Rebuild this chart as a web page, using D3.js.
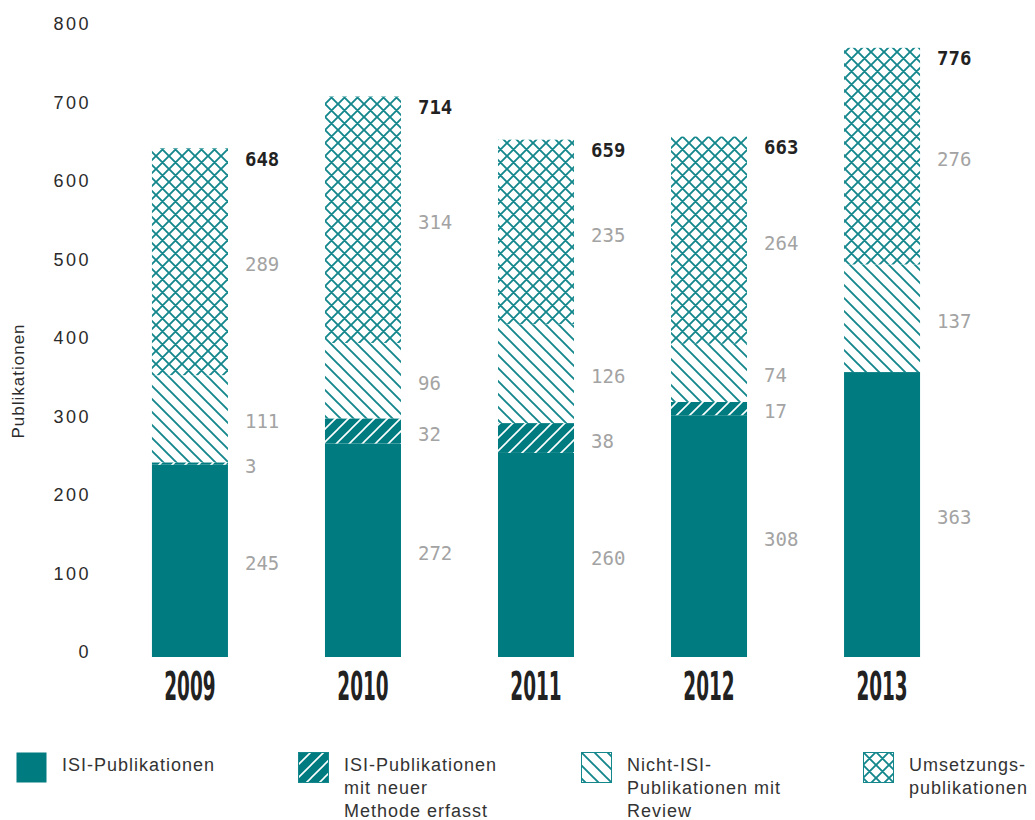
<!DOCTYPE html>
<html>
<head>
<meta charset="utf-8">
<script src="https://cdn.jsdelivr.net/npm/d3@7/dist/d3.min.js"></script>
<style>
  body { margin: 0; background: #fff; }
  svg { display: block; }
  .tick-y text { font-family: "Liberation Sans", Arial, sans-serif; font-size: 18px; letter-spacing: 2.5px; fill: #2b2b2b; }
  .year text { font-family: "DejaVu Sans Condensed", sans-serif; font-weight: bold; font-size: 20.5px; fill: #222; }
  .val { font-family: "DejaVu Sans Mono", monospace; font-size: 19px; fill: #a3a3a3; }
  .total { font-family: "DejaVu Sans Mono", monospace; font-size: 19px; font-weight: bold; fill: #222; }
  .legend text { font-family: "Liberation Sans", Arial, sans-serif; font-size: 18px; letter-spacing: 1px; fill: #333; }
  .ytitle { font-family: "Liberation Sans", Arial, sans-serif; font-size: 17px; letter-spacing: 1px; fill: #2b2b2b; }
</style>
</head>
<body>
<div id="chart"></div>
<script>
// data
const years = ['2009', '2010', '2011', '2012', '2013'];
const isiPub = [245, 272, 260, 308, 363];
const isiNeueMethode = [3, 32, 38, 17, 0];
const nichtIsi = [111, 96, 126, 74, 137];
const umsetzung = [289, 314, 235, 264, 276];
const totals = [648, 714, 659, 663, 776];
const yTicks = [0, 100, 200, 300, 400, 500, 600, 700, 800];

const seriesKeys = ['isi', 'neu', 'nicht', 'ums'];
const seriesLabels = [
  ['ISI-Publikationen'],
  ['ISI-Publikationen', 'mit neuer', 'Methode erfasst'],
  ['Nicht-ISI-', 'Publikationen mit', 'Review'],
  ['Umsetzungs-', 'publikationen']
];

const width = 1035, height = 820;
const teal = '#007b80';
const hatch = '#14878d';

const rows = years.map(function(y, i) {
  return { year: y, isi: isiPub[i], neu: isiNeueMethode[i], nicht: nichtIsi[i], ums: umsetzung[i], total: totals[i] };
});

const svg = d3.select('#chart').append('svg')
  .attr('width', width)
  .attr('height', height);

// patterns
const defs = svg.append('defs');
const p = 13;

const pNeu = defs.append('pattern').attr('id', 'pat-neu')
  .attr('patternUnits', 'userSpaceOnUse').attr('width', p).attr('height', p);
pNeu.append('rect').attr('width', p).attr('height', p).attr('fill', teal);
pNeu.append('path')
  .attr('d', 'M0,' + p + ' L' + p + ',0 M-3,3 L3,-3 M' + (p - 3) + ',' + (p + 3) + ' L' + (p + 3) + ',' + (p - 3))
  .attr('stroke', '#fff').attr('stroke-width', 1.6);

const pNicht = defs.append('pattern').attr('id', 'pat-nicht')
  .attr('patternUnits', 'userSpaceOnUse').attr('width', p).attr('height', p);
pNicht.append('rect').attr('width', p).attr('height', p).attr('fill', '#fff');
pNicht.append('path')
  .attr('d', 'M0,0 L' + p + ',' + p + ' M-3,' + (p - 3) + ' L3,' + (p + 3) + ' M' + (p - 3) + ',-3 L' + (p + 3) + ',3')
  .attr('stroke', hatch).attr('stroke-width', 1.9);

const pUms = defs.append('pattern').attr('id', 'pat-ums')
  .attr('patternUnits', 'userSpaceOnUse').attr('width', p).attr('height', p);
pUms.append('rect').attr('width', p).attr('height', p).attr('fill', '#fff');
pUms.append('path')
  .attr('d', 'M0,0 L' + p + ',' + p + ' M-3,' + (p - 3) + ' L3,' + (p + 3) + ' M' + (p - 3) + ',-3 L' + (p + 3) + ',3' +
             ' M0,' + p + ' L' + p + ',0 M-3,3 L3,-3 M' + (p - 3) + ',' + (p + 3) + ' L' + (p + 3) + ',' + (p - 3))
  .attr('stroke', hatch).attr('stroke-width', 1.9);

const fills = { isi: teal, neu: 'url(#pat-neu)', nicht: 'url(#pat-nicht)', ums: 'url(#pat-ums)' };

// scales
const x = d3.scaleBand()
  .domain(years)
  .range([103.5, 968.5])
  .paddingInner(0.5607)
  .paddingOuter(0.28);

const y = d3.scaleLinear()
  .domain([0, 800])
  .range([657, 29]);

// y axis
const yAxis = svg.append('g')
  .attr('class', 'tick-y')
  .attr('transform', 'translate(91,0)')
  .call(d3.axisLeft(y).tickValues(yTicks).tickSize(0).tickPadding(0).tickFormat(d3.format('d')));
yAxis.select('.domain').remove();
yAxis.selectAll('text').attr('dy', '0.32em').attr('y', -5);

svg.append('text')
  .attr('class', 'ytitle')
  .attr('transform', 'translate(24,381) rotate(-90)')
  .attr('text-anchor', 'middle')
  .text('Publikationen');

// x axis with years (condensed, stretched vertically)
const xAxis = svg.append('g')
  .attr('class', 'year')
  .attr('transform', 'translate(0,672)')
  .call(d3.axisBottom(x).tickSize(0).tickPadding(0));
xAxis.select('.domain').remove();
xAxis.selectAll('text')
  .attr('y', 0)
  .attr('dy', 0)
  .attr('transform', 'translate(0,28) scale(1,1.9)');

// stacked bars
const stack = d3.stack().keys(seriesKeys);
const layers = stack(rows);

const layer = svg.append('g').selectAll('g')
  .data(layers)
  .join('g')
  .attr('fill', function(d) { return fills[d.key]; });

layer.selectAll('rect')
  .data(function(d) { return d; })
  .join('rect')
  .attr('x', function(d) { return x(d.data.year); })
  .attr('y', function(d) { return y(d[1]); })
  .attr('width', x.bandwidth())
  .attr('height', function(d) { return y(d[0]) - y(d[1]); });

// segment value labels
const labelX = function(d) { return x(d.data.year) + x.bandwidth() + 17; };
svg.append('g').selectAll('g')
  .data(layers)
  .join('g')
  .selectAll('text')
  .data(function(d) { return d.filter(function(s) { return s[1] - s[0] > 0; }); })
  .join('text')
  .attr('class', 'val')
  .attr('x', labelX)
  .attr('y', function(d) { return (y(d[0]) + y(d[1])) / 2 + 3; })
  .attr('dy', '0.35em')
  .text(function(d) { return d[1] - d[0]; });

// totals
svg.append('g').selectAll('text')
  .data(rows)
  .join('text')
  .attr('class', 'total')
  .attr('x', function(d) { return x(d.year) + x.bandwidth() + 17; })
  .attr('y', function(d) { return y(d.total) + 11; })
  .attr('dy', '0.35em')
  .text(function(d) { return d.total; });

// legend
const legendX = [16, 298, 581, 863];
const legend = svg.append('g').attr('class', 'legend')
  .selectAll('g')
  .data(seriesKeys)
  .join('g')
  .attr('transform', function(d, i) { return 'translate(' + legendX[i] + ',752)'; });

legend.append('rect')
  .attr('x', 0.5).attr('y', 0.5)
  .attr('width', 30).attr('height', 30)
  .attr('fill', function(d) { return fills[d]; })
  .attr('stroke', function(d) { return d === 'isi' ? 'none' : hatch; })
  .attr('stroke-width', 1);

legend.append('text')
  .attr('x', 46)
  .selectAll('tspan')
  .data(function(d, i) { return seriesLabels[i]; })
  .join('tspan')
  .attr('x', 46)
  .attr('y', function(d, i) { return 19 + i * 23; })
  .text(function(d) { return d; });
</script>
</body>
</html>
